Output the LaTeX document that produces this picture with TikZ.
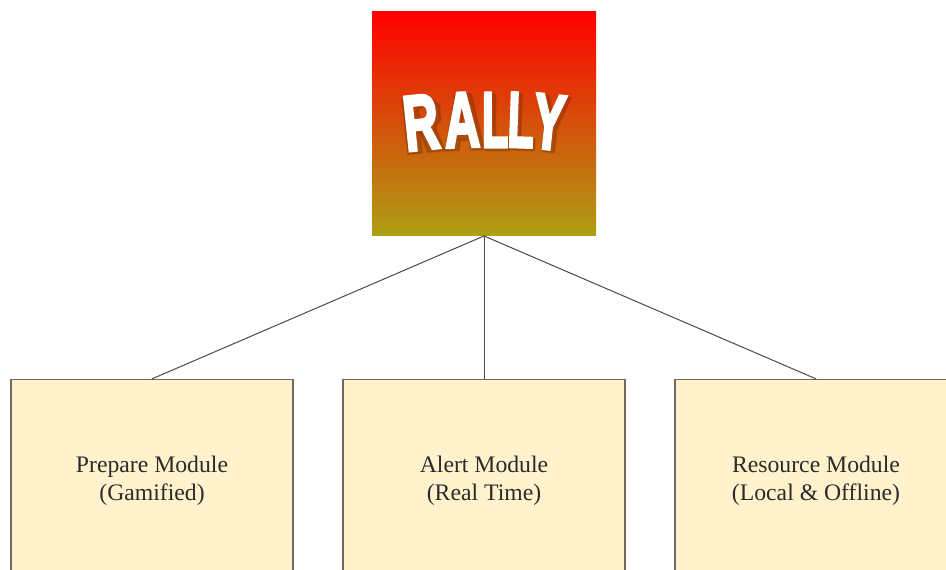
\documentclass[tikz,border=0pt]{standalone}
\usepackage{fontspec}
\setmainfont{Liberation Serif}
\newfontfamily\logofont[BoldFeatures={FakeBold=4.5}]{Liberation Sans}
\definecolor{boxfill}{HTML}{FFF2CC}
\definecolor{boxline}{HTML}{6F6A5C}
\definecolor{linkline}{HTML}{4A4A4A}
\definecolor{labeltext}{HTML}{2B2B2B}
\definecolor{logotop}{RGB}{255,0,0}
\definecolor{logobot}{RGB}{172,160,20}
\definecolor{logoshadow}{RGB}{110,50,10}
\newcommand{\logoletter}[7]{%
  \foreach \lw/\op in {3/.1,1.8/.12,.6/.16}{%
    \begin{scope}[shift={(#1+2,#2-2)},rotate=#5]
      \path[draw=logoshadow,fill=logoshadow,line join=round,even odd rule,line width=\lw pt,opacity=\op] #7;
    \end{scope}}%
  \node[lettershape,rotate=#5,xscale=#6] (#3) at (#1,#2) {#4};%
}
\tikzset{
  x=1pt,y=1pt,
  modbox/.style={draw=boxline,line width=1.3pt,fill=boxfill,minimum width=282pt,minimum height=203pt,
    inner sep=0pt,align=center,text=labeltext,font=\fontsize{23.7}{28.2}\selectfont},
  logobox/.style={minimum width=224pt,minimum height=224.5pt,inner sep=0pt,top color=logotop,bottom color=logobot,draw=none},
  link/.style={draw=linkline,line width=1.0pt},
  lettershape/.style={text=white,font=\logofont\bfseries\fontsize{78}{78}\selectfont,inner sep=0pt,anchor=center}
}
\begin{document}
\begin{tikzpicture}
\useasboundingbox (0,0) rectangle (946,-570);
\clip (0,0) rectangle (946,-570);
\fill[white] (0,0) rectangle (946,-570);
\node[logobox] (logo) at (484,-123.5) {};
\logoletter{421}{-122.5}{l1}{R}{6}{0.62}{(-18,28)--(8,28)--(18,18)--(18,3)--(12,-4)--(19,-28)--(2,-28)--(-4,-6)--(-4,-28)--(-18,-28)--cycle (-3,5) rectangle (5,17)}
\logoletter{462}{-120}{l2}{A}{2}{0.62}{(-8,28)--(8,28)--(19,-28)--(6,-28)--(5,-18)--(-5,-18)--(-6,-28)--(-19,-28)--cycle (0,14)--(-3,-7)--(3,-7)--cycle}
\logoletter{495}{-120}{l3}{L}{0}{0.55}{(-12,28)--(-2,28)--(-2,-16)--(12,-16)--(12,-28)--(-12,-28)--cycle}
\logoletter{521}{-120}{l4}{L}{-2}{0.55}{(-12,28)--(-2,28)--(-2,-16)--(12,-16)--(12,-28)--(-12,-28)--cycle}
\logoletter{549}{-122}{l5}{Y}{-6}{0.6}{(-17,28)--(-5,28)--(0,9)--(5,28)--(17,28)--(6,-5)--(6,-28)--(-6,-28)--(-6,-5)--cycle}
\node[modbox] (prep) at (152,-481) {Prepare Module\\(Gamified)};
\node[modbox] (alert) at (484,-481) {Alert Module\\(Real Time)};
\node[modbox] (res) at (816,-481) {Resource Module\\(Local \& Offline)};
\draw[link] (logo.south) -- (prep.north);
\draw[link] (logo.south) -- (alert.north);
\draw[link] (logo.south) -- (res.north);
\end{tikzpicture}
\end{document}
